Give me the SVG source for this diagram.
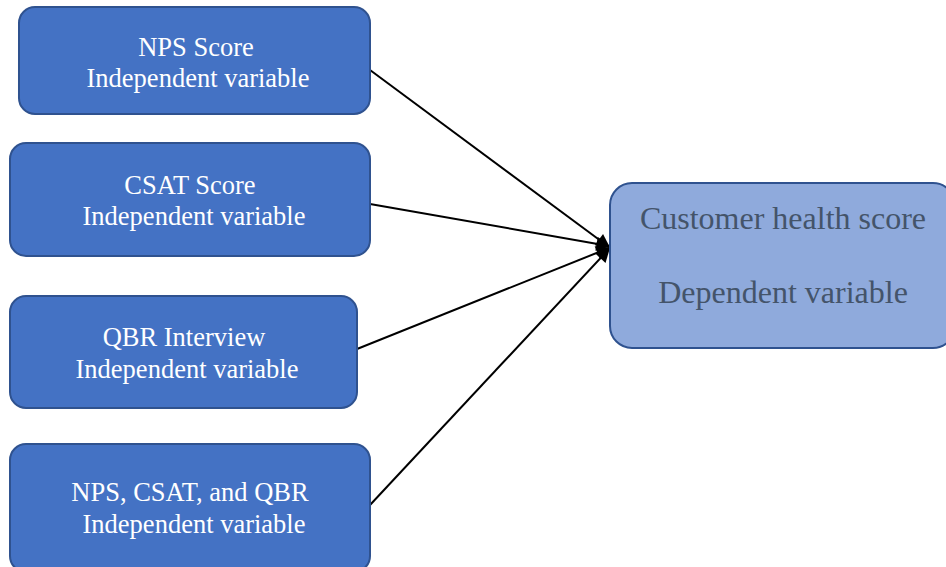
<svg xmlns="http://www.w3.org/2000/svg" width="946" height="567" viewBox="0 0 946 567">
<defs>
<style>
.box{fill:#4472C4;stroke:#2F528F;stroke-width:2}
.dep{fill:#8FAADC;stroke:#2F528F;stroke-width:2}
.t{font-size:26.5px;fill:#ffffff;text-anchor:middle}
.td{font-size:32px;fill:#44546A;text-anchor:middle}
.c{stroke:#000;stroke-width:2;fill:none;marker-end:url(#ah)}
</style>
<marker id="ah" viewBox="0 0 10 10" refX="9" refY="5" markerWidth="8" markerHeight="7" orient="auto" markerUnits="strokeWidth">
<path d="M0,0 L10,5 L0,10 z" fill="#000"/>
</marker>
</defs>
<rect width="946" height="567" fill="#fff"/>
<g id="connectors">
<line class="c" x1="370" y1="70" x2="609" y2="247"/>
<line class="c" x1="370" y1="204" x2="609" y2="246"/>
<line class="c" x1="357" y1="349" x2="609" y2="248"/>
<line class="c" x1="370" y1="505" x2="609" y2="249"/>
</g>
<g font-family="'Liberation Serif', 'Times New Roman', serif">
<g id="nps">
<rect class="box" x="19" y="7" width="351" height="107" rx="16"/>
<text class="t" x="196" y="56">NPS Score</text>
<text class="t" x="198" y="87">Independent variable</text>
</g>
<g id="csat">
<rect class="box" x="10" y="143" width="360" height="113" rx="16"/>
<text class="t" x="190" y="194">CSAT Score</text>
<text class="t" x="194" y="225">Independent variable</text>
</g>
<g id="qbr">
<rect class="box" x="10" y="296" width="347" height="112" rx="16"/>
<text class="t" x="184" y="346">QBR Interview</text>
<text class="t" x="187" y="378">Independent variable</text>
</g>
<g id="all">
<rect class="box" x="10" y="444" width="360" height="128" rx="16"/>
<text class="t" x="190" y="501">NPS, CSAT, and QBR</text>
<text class="t" x="194" y="533">Independent variable</text>
</g>
<g id="health">
<rect class="dep" x="610" y="183" width="345" height="165" rx="22"/>
<text class="td" x="783" y="229">Customer health score</text>
<text class="td" x="783" y="303">Dependent variable</text>
</g>
</g>
</svg>
